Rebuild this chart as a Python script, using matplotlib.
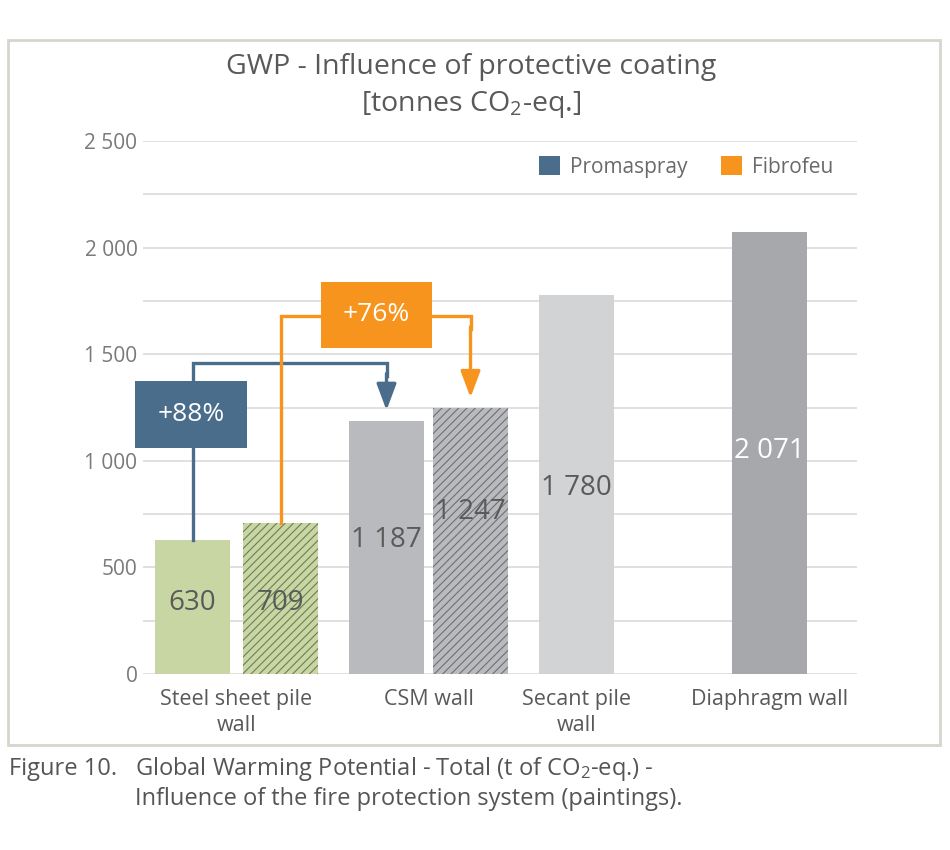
import matplotlib
matplotlib.use("Agg")
import matplotlib.pyplot as plt
from matplotlib.patches import Rectangle, Patch

plt.rcParams['font.family'] = ['Open Sans', 'DejaVu Sans']
plt.rcParams['mathtext.fontset'] = 'custom'
plt.rcParams['mathtext.rm'] = 'Open Sans'
plt.rcParams['mathtext.default'] = 'regular'
plt.rcParams['hatch.linewidth'] = 0.8

# data
categories = ["Steel sheet pile\nwall", "CSM wall", "Secant pile\nwall", "Diaphragm wall"]
bar_values = [630, 709, 1187, 1247, 1780, 2071]
bar_colors = ["#c8d6a4", "#c8d6a4", "#b9babe", "#b9babe", "#d2d3d5", "#a7a8ac"]
bar_hatched = [False, True, False, True, False, False]
hatch_colors = ["#6f7d55", "#6f7d55", "#6e6f73", "#6e6f73", "#6e6f73", "#6e6f73"]
label_colors = ["#5a5a5a"] * 5 + ["white"]
series = ["Promaspray", "Fibrofeu"]
series_colors = ["#4a6d8b", "#f7941d"]
y_ticks = list(range(0, 2501, 250))

# layout (x in pixel-like units of the reference)
bar_x = [192.5, 280.5, 386.5, 470.5, 576.5, 769.5]
bar_w = 75
cat_x = [236.5, 428.5, 576.5, 769.5]
label_frac = [0.53, 0.47, 0.53, 0.61, 0.49, 0.505]

fig = plt.figure(figsize=(9.5, 8.5), dpi=100)
ax = fig.add_axes([143 / 950, 1 - 674 / 850, (857 - 143) / 950, (674 - 141) / 850])

for x, v, c, h, hc, lc, f in zip(bar_x, bar_values, bar_colors, bar_hatched,
                                  hatch_colors, label_colors, label_frac):
    ax.bar(x, v, width=bar_w, color=c, edgecolor=hc if h else c,
           linewidth=0, hatch='////' if h else None, zorder=2)
    ax.text(x, v * f, f"{v:,}".replace(",", " "), ha='center', va='center',
            fontsize=20, color=lc, zorder=4)

ax.set_xlim(143, 857)
ax.set_ylim(0, 2500)
ax.set_yticks(y_ticks)
ax.set_yticklabels([f"{t:,}".replace(",", " ") if t % 500 == 0 else "" for t in y_ticks])
ax.set_xticks(cat_x)
ax.set_xticklabels(categories, fontsize=15.5, color="#595959", linespacing=1.3)
ax.tick_params(axis='y', length=0, labelsize=15, labelcolor="#7a7a7a", pad=4)
ax.tick_params(axis='x', length=0, pad=11)
ax.grid(axis='y', color="#dadada", linewidth=1.2)
ax.set_axisbelow(True)
for s in ax.spines.values():
    s.set_visible(False)

# increase arrows: Promaspray (630 -> 1187), Fibrofeu (709 -> 1247)
arrow_pairs = [(0, 2, 1459, series_colors[0]), (1, 3, 1679, series_colors[1])]
for i0, i1, level, col in arrow_pairs:
    x0, x1 = bar_x[i0], bar_x[i1]
    ax.plot([x0, x0, x1, x1], [bar_values[i0], level, level, level - 60], color=col,
            linewidth=2.4, solid_joinstyle='miter', zorder=3)
    ax.annotate("", xy=(x1, bar_values[i1] + 50), xytext=(x1, level - 50),
                arrowprops=dict(arrowstyle="-|>,head_length=1.6,head_width=0.6",
                                color=col, lw=2.4, mutation_scale=10,
                                shrinkA=0, shrinkB=0), zorder=3)

boxes = [(135, 247, 1060, 1374, series_colors[0], bar_values[2] / bar_values[0] - 1),
         (321, 432, 1529, 1839, series_colors[1], bar_values[3] / bar_values[1] - 1)]
for xa, xb, ya, yb, col, pct in boxes:
    ax.add_patch(Rectangle((xa, ya), xb - xa, yb - ya, facecolor=col,
                           edgecolor='none', zorder=5, clip_on=False))
    ax.text((xa + xb) / 2, (ya + yb) / 2, f"+{pct * 100:.0f}%", ha='center',
            va='center', fontsize=19, color='white', zorder=6)

handles = [Patch(facecolor=c, edgecolor='none') for c in series_colors]
leg = ax.legend(handles, series, loc='center', bbox_to_anchor=(686 / 950, 1 - 167 / 850),
                bbox_transform=fig.transFigure, ncol=2, frameon=False, fontsize=15,
                handlelength=1.0, handleheight=1.0, handletextpad=0.5, columnspacing=1.6)
for t in leg.get_texts():
    t.set_color("#6a6a6a")

fig.text(471 / 950, 1 - 67 / 850, "GWP - Influence of protective coating",
         ha='center', va='center', fontsize=20.5, color="#595959")
fig.text(471 / 950, 1 - 104 / 850, "[tonnes CO$_2$-eq.]",
         ha='center', va='center', fontsize=20.5, color="#595959")

fig.patches.append(Rectangle((8 / 950, 1 - 745 / 850), 932 / 950, 705 / 850,
                             transform=fig.transFigure, fill=False,
                             edgecolor="#d6d6cc", linewidth=2))

fig.text(9 / 950, 1 - 769 / 850, "Figure 10.", ha='left', va='center',
         fontsize=17, color="#555555")
fig.text(135 / 950, 1 - 769 / 850, "Global Warming Potential - Total (t of CO$_2$-eq.) -",
         ha='left', va='center', fontsize=17, color="#555555")
fig.text(135 / 950, 1 - 799 / 850, "Influence of the fire protection system (paintings).",
         ha='left', va='center', fontsize=17, color="#555555")

fig.savefig("out.png", dpi=100)
